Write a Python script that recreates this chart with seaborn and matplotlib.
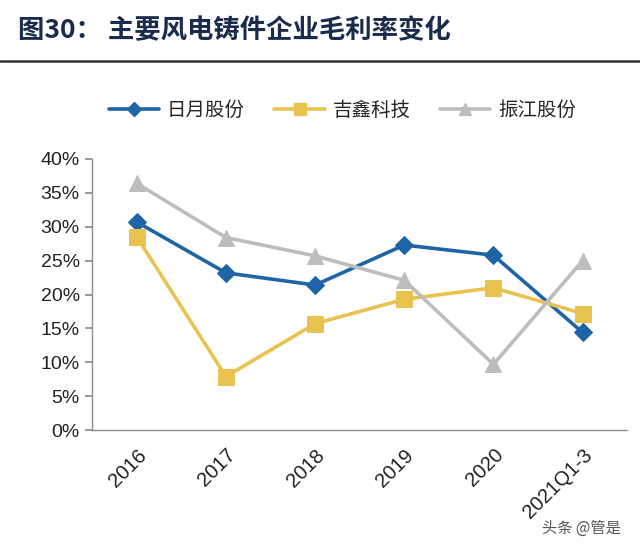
import matplotlib
matplotlib.use("Agg")
import pandas as pd
import seaborn as sns
import matplotlib.pyplot as plt
from matplotlib.ticker import PercentFormatter
from matplotlib.lines import Line2D

# Dados
anos = ['2016', '2017', '2018', '2019', '2020', '2021Q1-3']
riyue = [30.7, 23.2, 21.4, 27.3, 25.8, 14.4]
jixin = [28.5, 7.9, 15.7, 19.3, 21.0, 17.2]
zhenjiang = [36.4, 28.4, 25.7, 22.1, 9.7, 25.0]

nomes = ['日月股份', '吉鑫科技', '振江股份']
cores = ['#1F64A6', '#E9C350', '#BDBDBD']
marcadores = ['D', 's', '^']
tamanhos = [9, 11, 11]

df = pd.DataFrame({'ano': anos * 3,
                   'valor': riyue + jixin + zhenjiang,
                   'empresa': [n for n in nomes for _ in anos]})

sns.set_theme(style='white')
plt.rcParams['font.family'] = ['Liberation Sans', 'Noto Sans CJK SC', 'DejaVu Sans']

fig = plt.figure(figsize=(6.4, 5.5), dpi=100)
ax = fig.add_axes([0.144, 0.218, 0.836, 0.493])

for nome, cor, m, ms in zip(nomes, cores, marcadores, tamanhos):
    sub = df[df['empresa'] == nome]
    sns.lineplot(data=sub, x='ano', y='valor', color=cor, marker=m, markersize=ms,
                 markeredgecolor=cor, linewidth=2.6, ax=ax, legend=False)

ax.set_xlim(-0.5, 5.5)
ax.set_ylim(0, 40)
ax.set_yticks(range(0, 41, 5))
ax.yaxis.set_major_formatter(PercentFormatter(decimals=0))
ax.set_xlabel('')
ax.set_ylabel('')
for s in ['top', 'right']:
    ax.spines[s].set_visible(False)
for s in ['left', 'bottom']:
    ax.spines[s].set_color('#8C8C8C')
    ax.spines[s].set_linewidth(1.0)
ax.tick_params(axis='y', which='major', left=True, length=5, color='#8C8C8C',
               labelsize=14, pad=4, labelcolor='#222222')
ax.tick_params(axis='x', bottom=False, labelsize=14.5, pad=5, labelcolor='#222222')
plt.setp(ax.get_xticklabels(), rotation=45, ha='right', rotation_mode='anchor')

# Legenda
handles = [Line2D([0], [0], color=c, marker=m, markersize=ms * 0.8, linewidth=2.6)
           for c, m, ms in zip(cores, marcadores, tamanhos)]
fig.legend(handles, nomes, loc='center', bbox_to_anchor=(0.535, 0.80), ncol=3,
           frameon=False, handlelength=2.6, handletextpad=0.4, columnspacing=1.5,
           prop={'family': ['Noto Sans CJK SC'], 'size': 14})

# Título
fig.text(0.028, 0.945, '图30： 主要风电铸件企业毛利率变化', fontsize=19, fontweight='bold',
         color='#1B2B4B', va='center', family=['Noto Sans CJK SC', 'DejaVu Sans'])
fig.add_artist(Line2D([0.0, 1.0], [0.89, 0.89], color='#333333', linewidth=1.8))

# Marca de água
fig.text(0.97, 0.04, '头条 @管是', fontsize=11, color='#555555', ha='right',
         va='center', family=['Noto Sans CJK SC', 'DejaVu Sans'])

plt.savefig('out.png', dpi=100)
